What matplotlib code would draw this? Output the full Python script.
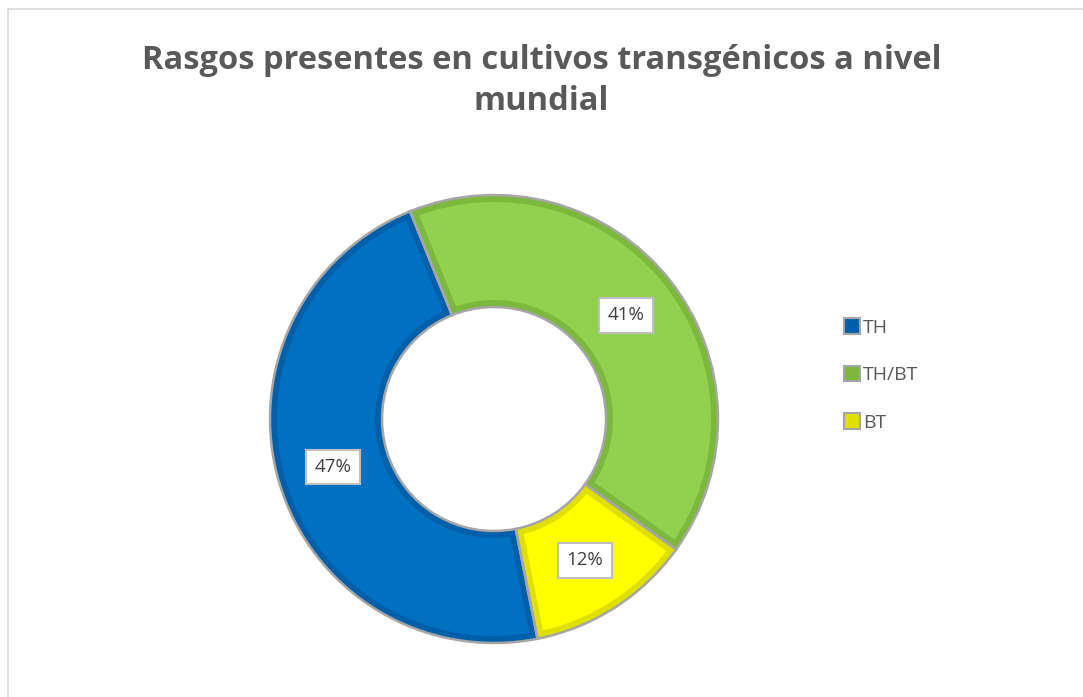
import matplotlib
matplotlib.use('Agg')
from matplotlib import pyplot
from matplotlib.patches import Rectangle

# chart data
labels = ['TH', 'TH/BT', 'BT']
values = [47, 41, 12]
fills = ['#0070C0', '#92D050', '#FFFF00']
borders = ['#005FA9', '#7BB83B', '#E0E000']
title = 'Rasgos presentes en cultivos transgénicos a nivel\nmundial'

W, H = 1083, 697
fig = pyplot.figure(figsize=(W / 100, H / 100), dpi=100)
fig.patch.set_facecolor('white')

# chart area frame (only top/left visible)
fig.patches.append(Rectangle((8 / W, -0.1), 1.2, (H - 9) / H + 0.1,
                             transform=fig.transFigure, fill=False,
                             edgecolor='#D9D9D9', linewidth=1.2))

fig.text(0.5, 1 - 81 / H, title, ha='center', va='center', fontsize=23.5,
         fontweight='bold', color='#595959', family='Open Sans',
         linespacing=1.35)

# donut axes
cx, cy, r = 494, 419, 224
ax = fig.add_axes([(cx - r) / W, (H - cy - r) / H, 2 * r / W, 2 * r / H])

start = 90 - 168.8
wedges, _, autotexts = ax.pie(values, colors=fills, startangle=start, counterclock=False,
                              radius=1, autopct='%d%%', pctdistance=0.75,
                              wedgeprops=dict(width=0.5, edgecolor='none'))
# darker inner border, clipped to each slice
for w, bc in zip(wedges, borders):
    w.set_edgecolor(bc)
    w.set_linewidth(10)
    w.set_clip_on(True)
    w.set_clip_path(w)
# gray outline on top
ax.pie(values, colors=['none'] * 3, startangle=start, counterclock=False, radius=1,
       wedgeprops=dict(width=0.5, edgecolor='#A6A6A6', linewidth=1.8, fill=False))

ax.set_xlim(-1, 1)
ax.set_ylim(-1, 1)
ax.set_aspect('equal')
ax.axis('off')

for t in autotexts:
    t.set_fontsize(13.5)
    t.set_color('#404040')
    t.set_family('Open Sans')
    t.set_bbox(dict(boxstyle='square,pad=0.45', facecolor='white',
                    edgecolor='#BFBFBF', linewidth=1.5))

# legend
handles = [Rectangle((0, 0), 1, 1, facecolor=bc, edgecolor='#A6A6A6', linewidth=1.5)
           for bc in borders]
leg = fig.legend(handles, labels, loc='center left', bbox_to_anchor=(826 / W, 1 - 375 / H),
                 frameon=False, handlelength=0.85, handleheight=0.85, handletextpad=0.15,
                 labelspacing=1.5, prop={'family': 'Open Sans', 'size': 14},
                 labelcolor='#595959')

pyplot.savefig('out.png', dpi=100)
